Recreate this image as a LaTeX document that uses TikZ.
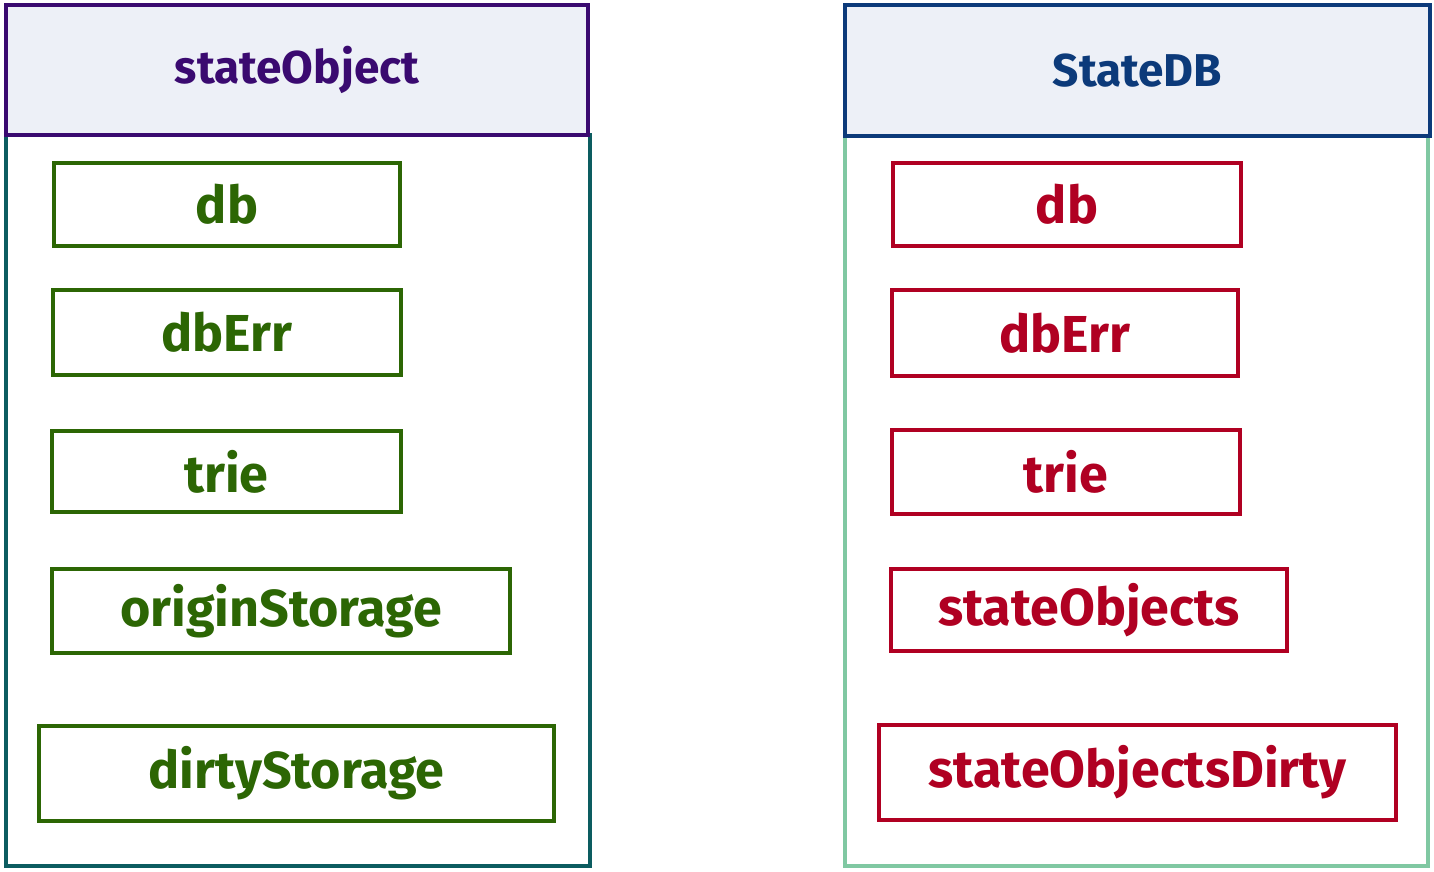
\documentclass[tikz,border=0pt]{standalone}
\usepackage{fontspec}
\setmainfont{Fira Sans}
\definecolor{objpurple}{RGB}{58,10,112}
\definecolor{objteal}{RGB}{12,92,96}
\definecolor{objgreen}{RGB}{44,102,4}
\definecolor{dbblue}{RGB}{12,58,122}
\definecolor{dbmint}{RGB}{128,200,162}
\definecolor{dbred}{RGB}{176,0,34}
\definecolor{headfill}{RGB}{237,240,247}
\begin{document}
\begin{tikzpicture}[x=1pt, y=-1pt]
        \tikzset{frame/.style={draw, line width=3.5pt, inner sep=0pt},
          head/.style={frame, line width=4pt, fill=headfill, font=\fontsize{46}{46}\selectfont\bfseries},
          field/.style={frame, font=\fontsize{52}{52}\selectfont\bfseries}}
        \useasboundingbox (0,0) rectangle (1434,872);

        % stateObject
        \path (298,500.5) node[frame, draw=objteal, minimum width=584pt, minimum height=731pt] (ob) {};
        \path (297,70) node[head, draw=objpurple, text=objpurple, minimum width=582pt, minimum height=130pt] (oh) {stateObject};
        \foreach \n/\t/\x/\y/\w/\h in {0/db/227/204.5/346/83, 1/dbErr/227/332.5/348/85, 2/trie/226.5/471.5/349/81,
          3/originStorage/281/611/458/84, 4/dirtyStorage/296.5/773.5/515/95}
        {
          \path (\x,\y) node[field, draw=objgreen, text=objgreen, minimum width=\w pt, minimum height=\h pt] (o\n) {\t};
        }

        % StateDB
        \path (1136.5,501) node[frame, draw=dbmint, minimum width=583pt, minimum height=730pt] (sb) {};
        \path (1137.5,70.5) node[head, draw=dbblue, text=dbblue, minimum width=585pt, minimum height=131pt] (sh) {StateDB};
        \foreach \n/\t/\x/\y/\w/\h in {0/db/1067/204.5/348/83, 1/dbErr/1065/333/346/86, 2/trie/1066/472/348/84,
          3/stateObjects/1089/610/396/82, 4/stateObjectsDirty/1137.5/772.5/517/95}
        {
          \path (\x,\y) node[field, draw=dbred, text=dbred, minimum width=\w pt, minimum height=\h pt] (s\n) {\t};
        }
      \end{tikzpicture}
\end{document}
